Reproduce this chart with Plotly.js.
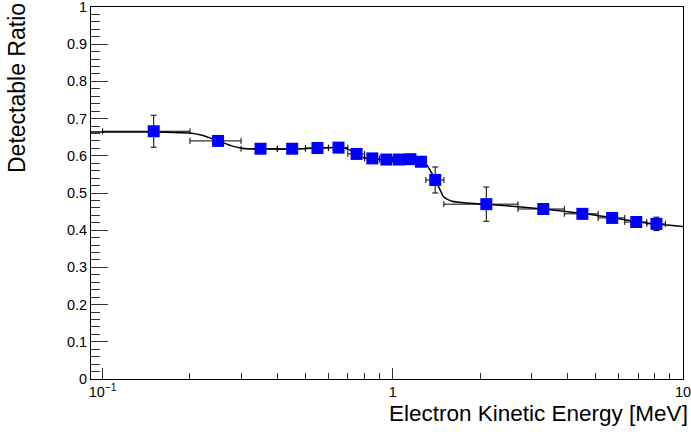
<!DOCTYPE html>
<html>
<head>
<meta charset="utf-8">
<script src="https://cdn.plot.ly/plotly-3.0.1.min.js"></script>
<style>html,body{margin:0;padding:0;background:#fff;}#chart{width:691px;height:436px;}</style>
</head>
<body>
<div id="chart"></div>
<script>
// Measured points (bin centres) and uncertainties
const energy    = [0.15, 0.25, 0.35, 0.45, 0.55, 0.65, 0.75, 0.85, 0.95, 1.05, 1.15, 1.25, 1.4, 2.1, 3.3, 4.5, 5.7, 6.9, 8.1];
const energyErr = [0.05, 0.05, 0.05, 0.05, 0.05, 0.05, 0.05, 0.05, 0.05, 0.05, 0.05, 0.05, 0.1, 0.6, 0.6, 0.6, 0.6, 0.6, 0.6];
const ratio     = [0.666, 0.640, 0.619, 0.619, 0.621, 0.622, 0.605, 0.593, 0.590, 0.590, 0.591, 0.584, 0.535, 0.470, 0.457, 0.444, 0.433, 0.422, 0.417];
const ratioErr  = [0.043, 0.008, 0.006, 0.006, 0.006, 0.006, 0.006, 0.006, 0.006, 0.006, 0.006, 0.006, 0.035, 0.046, 0.010, 0.014, 0.010, 0.012, 0.018];

// Smooth curve
const curveE = [0.0912, 0.15, 0.2, 0.22, 0.25, 0.28, 0.3, 0.33, 0.35, 0.45, 0.55, 0.65, 0.7, 0.75, 0.8, 0.85, 0.95, 1.05, 1.15, 1.25, 1.3, 1.35, 1.4, 1.45, 1.5, 1.6, 1.8, 2.1, 3.3, 4.5, 5.7, 6.9, 8.1, 10];
const curveR = [0.664, 0.664, 0.661, 0.655, 0.640, 0.626, 0.621, 0.618, 0.618, 0.618, 0.621, 0.622, 0.618, 0.605, 0.594, 0.591, 0.590, 0.590, 0.591, 0.586, 0.578, 0.559, 0.535, 0.511, 0.489, 0.478, 0.473, 0.470, 0.457, 0.445, 0.434, 0.423, 0.417, 0.410];

// Axis tick labels
const xTickVals  = [0.1, 1, 10];
const xTickText  = ['10<sup>\u22121</sup>', '1', '10'];
const xMinorVals = [0.2, 0.3, 0.4, 0.5, 0.6, 0.7, 0.8, 0.9, 2, 3, 4, 5, 6, 7, 8, 9];
const yTickVals  = [0, 0.1, 0.2, 0.3, 0.4, 0.5, 0.6, 0.7, 0.8, 0.9, 1];
const yTickText  = ['0', '0.1', '0.2', '0.3', '0.4', '0.5', '0.6', '0.7', '0.8', '0.9', '1'];
const yMinorVals = [0.02, 0.04, 0.06, 0.08, 0.12, 0.14, 0.16, 0.18, 0.22, 0.24, 0.26, 0.28,
                    0.32, 0.34, 0.36, 0.38, 0.42, 0.44, 0.46, 0.48, 0.52, 0.54, 0.56, 0.58,
                    0.62, 0.64, 0.66, 0.68, 0.72, 0.74, 0.76, 0.78, 0.82, 0.84, 0.86, 0.88,
                    0.92, 0.94, 0.96, 0.98];

const xTitle = 'Electron Kinetic Energy [MeV]';
const yTitle = 'Detectable Ratio';

const FONT = 'Liberation Sans, Arial, Helvetica, sans-serif';
const TICK = '#333333';

const traces = [
  {
    x: curveE, y: curveR, type: 'scatter', mode: 'lines',
    line: {color: '#000000', width: 1.5, shape: 'spline', smoothing: 0.6},
    hoverinfo: 'skip', showlegend: false
  },
  {
    x: energy, y: ratio, type: 'scatter', mode: 'markers',
    marker: {symbol: 'square', size: 12, color: '#0000ff', line: {width: 0}},
    error_x: {type: 'data', array: energyErr, visible: true, color: '#000000', thickness: 1, width: 3},
    error_y: {type: 'data', array: ratioErr, visible: true, color: '#000000', thickness: 1, width: 3},
    showlegend: false
  },
  // invisible helper trace for the separate minor-tick subplot
  {
    x: [energy[0]], y: [ratio[0]], xaxis: 'x2', yaxis: 'y2', type: 'scatter', mode: 'markers',
    marker: {opacity: 0, size: 1}, hoverinfo: 'skip', showlegend: false
  }
];

const layout = {
  width: 691, height: 436,
  margin: {l: 91, r: 8, t: 7, b: 57, pad: 0},
  paper_bgcolor: '#ffffff', plot_bgcolor: 'rgba(0,0,0,0)',
  font: {family: FONT, color: '#000000', size: 14},
  showlegend: false,
  xaxis: {
    type: 'log', range: [-1.04, 1.0], domain: [0, 1], anchor: 'y',
    tickmode: 'array', tickvals: xTickVals, ticktext: xTickText,
    ticks: 'inside', ticklen: 11, tickwidth: 1, tickcolor: TICK,
    showline: true, linecolor: '#000000', linewidth: 1, mirror: true,
    showgrid: false, zeroline: false,
    ticklabeloverflow: 'allow',
    tickfont: {family: FONT, size: 14.5, color: '#000000'}
  },
  yaxis: {
    range: [0, 1], domain: [0, 1], anchor: 'x',
    tickmode: 'array', tickvals: yTickVals, ticktext: yTickText,
    ticks: 'inside', ticklen: 17, tickwidth: 1, tickcolor: TICK,
    showline: true, linecolor: '#000000', linewidth: 1, mirror: true,
    showgrid: false, zeroline: false,
    ticklabeloverflow: 'allow',
    tickfont: {family: FONT, size: 14.5, color: '#000000'}
  },
  // separate (non-overlaying) subplot on the same area, only for minor ticks
  xaxis2: {
    type: 'log', range: [-1.04, 1.0], domain: [0, 1], anchor: 'y2', side: 'bottom',
    tickmode: 'array', tickvals: xMinorVals, showticklabels: false,
    ticks: 'inside', ticklen: 6, tickwidth: 1, tickcolor: TICK,
    showline: false, showgrid: false, zeroline: false
  },
  yaxis2: {
    range: [0, 1], domain: [0, 1], anchor: 'x2', side: 'left',
    tickmode: 'array', tickvals: yMinorVals, showticklabels: false,
    ticks: 'inside', ticklen: 9, tickwidth: 1, tickcolor: TICK,
    showline: false, showgrid: false, zeroline: false
  },
  annotations: [
    {
      text: xTitle, xref: 'paper', yref: 'paper',
      x: (690 - 91) / 592, y: -(414 - 379) / 372,
      xanchor: 'right', yanchor: 'middle', showarrow: false,
      font: {family: FONT, size: 22.5, color: '#000000'}
    },
    {
      text: yTitle, xref: 'paper', yref: 'paper', textangle: -90,
      x: (17 - 91) / 592, y: 1 - (88 - 7) / 372,
      xanchor: 'center', yanchor: 'middle', showarrow: false,
      font: {family: FONT, size: 23, color: '#000000'}
    }
  ]
};

Plotly.newPlot('chart', traces, layout, {staticPlot: true, displayModeBar: false});
</script>
</body>
</html>
